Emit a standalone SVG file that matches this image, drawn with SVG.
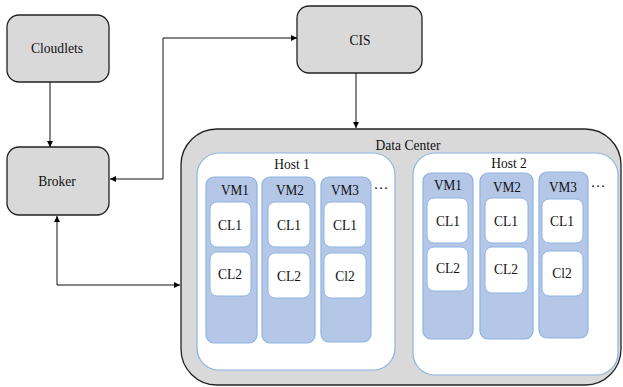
<svg xmlns="http://www.w3.org/2000/svg" width="623" height="387" viewBox="0 0 623 387">
<defs>
<marker id="ah" viewBox="0 0 10 10" refX="10" refY="5" markerWidth="6" markerHeight="6" orient="auto-start-reverse" markerUnits="userSpaceOnUse">
<path d="M0,0 L10,5 L0,10 z" fill="#000"/>
</marker>
<style>
.g{fill:#d9d9d9;stroke:#222;stroke-width:1.3}
.host{fill:#fff;stroke:#8db4e2;stroke-width:1.2}
.vm{fill:#b4c7e7;stroke:#8db4e2;stroke-width:1.2}
.cl{fill:#fff;stroke:#8db4e2;stroke-width:1}
text{font-family:"Liberation Serif","Times New Roman",serif;font-size:15px;fill:#111;text-anchor:middle;dominant-baseline:central}
.c{fill:none;stroke:#111;stroke-width:1}
</style>
</defs>
<g id="cloudlets"><rect class="g" x="7" y="15" width="102" height="67" rx="12"/><text x="57" y="48" textLength="52" lengthAdjust="spacingAndGlyphs">Cloudlets</text></g>
<g id="broker"><rect class="g" x="7" y="147" width="102" height="68" rx="12"/><text x="57" y="181" textLength="37.5" lengthAdjust="spacingAndGlyphs">Broker</text></g>
<g id="cis"><rect class="g" x="297" y="6" width="125" height="67" rx="12"/><text x="360" y="40" textLength="21" lengthAdjust="spacingAndGlyphs">CIS</text></g>
<g id="datacenter"><rect class="g" x="181" y="129" width="440" height="256" rx="36"/><text x="408" y="145" textLength="65" lengthAdjust="spacingAndGlyphs">Data Center</text></g>
<g id="host1"><rect class="host" x="197" y="153" width="198" height="217" rx="22"/><text x="292" y="164" textLength="35.6" lengthAdjust="spacingAndGlyphs">Host 1</text>
<g id="h1vm1"><rect class="vm" x="206" y="177" width="51" height="166" rx="8"/><text x="235" y="190" textLength="28" lengthAdjust="spacingAndGlyphs">VM1</text>
<g id="h1vm1cl1"><rect class="cl" x="210" y="202" width="41" height="45" rx="7"/><text x="230" y="225" textLength="24" lengthAdjust="spacingAndGlyphs">CL1</text></g>
<g id="h1vm1cl2"><rect class="cl" x="210" y="252" width="41" height="44" rx="7"/><text x="230" y="274" textLength="24" lengthAdjust="spacingAndGlyphs">CL2</text></g></g>
<g id="h1vm2"><rect class="vm" x="262" y="177" width="53" height="166" rx="8"/><text x="290" y="190" textLength="28" lengthAdjust="spacingAndGlyphs">VM2</text>
<g id="h1vm2cl1"><rect class="cl" x="268" y="202" width="42" height="45" rx="7"/><text x="289" y="225" textLength="24" lengthAdjust="spacingAndGlyphs">CL1</text></g>
<g id="h1vm2cl2"><rect class="cl" x="268" y="253" width="42" height="45" rx="7"/><text x="289" y="276" textLength="24" lengthAdjust="spacingAndGlyphs">CL2</text></g></g>
<g id="h1vm3"><rect class="vm" x="321" y="177" width="50" height="165" rx="8"/><text x="345" y="190" textLength="28" lengthAdjust="spacingAndGlyphs">VM3</text>
<g id="h1vm3cl1"><rect class="cl" x="324" y="202" width="42" height="45" rx="7"/><text x="345" y="225" textLength="24" lengthAdjust="spacingAndGlyphs">CL1</text></g>
<g id="h1vm3cl2"><rect class="cl" x="324" y="253" width="42" height="45" rx="7"/><text x="345" y="276" textLength="19.5" lengthAdjust="spacingAndGlyphs">Cl2</text></g></g>
<text x="381" y="184">…</text></g>
<g id="host2"><rect class="host" x="413" y="153" width="205" height="222" rx="22"/><text x="509" y="163" textLength="35.6" lengthAdjust="spacingAndGlyphs">Host 2</text>
<g id="h2vm1"><rect class="vm" x="423" y="173" width="50" height="166" rx="8"/><text x="448" y="185" textLength="28" lengthAdjust="spacingAndGlyphs">VM1</text>
<g id="h2vm1cl1"><rect class="cl" x="427" y="198" width="41" height="45" rx="7"/><text x="448" y="221" textLength="24" lengthAdjust="spacingAndGlyphs">CL1</text></g>
<g id="h2vm1cl2"><rect class="cl" x="427" y="247" width="41" height="44" rx="7"/><text x="448" y="268" textLength="24" lengthAdjust="spacingAndGlyphs">CL2</text></g></g>
<g id="h2vm2"><rect class="vm" x="480" y="173" width="53" height="166" rx="8"/><text x="507" y="187" textLength="28" lengthAdjust="spacingAndGlyphs">VM2</text>
<g id="h2vm2cl1"><rect class="cl" x="485" y="198" width="43" height="45" rx="7"/><text x="506" y="221" textLength="24" lengthAdjust="spacingAndGlyphs">CL1</text></g>
<g id="h2vm2cl2"><rect class="cl" x="485" y="247" width="43" height="46" rx="7"/><text x="506" y="269" textLength="24" lengthAdjust="spacingAndGlyphs">CL2</text></g></g>
<g id="h2vm3"><rect class="vm" x="539" y="172" width="49" height="166" rx="8"/><text x="563" y="187" textLength="28" lengthAdjust="spacingAndGlyphs">VM3</text>
<g id="h2vm3cl1"><rect class="cl" x="542" y="199" width="41" height="44" rx="7"/><text x="562" y="221" textLength="24" lengthAdjust="spacingAndGlyphs">CL1</text></g>
<g id="h2vm3cl2"><rect class="cl" x="542" y="251" width="41" height="45" rx="7"/><text x="562" y="273" textLength="19.5" lengthAdjust="spacingAndGlyphs">Cl2</text></g></g>
<text x="598" y="182">…</text></g>
<g id="connectors">
<line class="c" x1="50" y1="82" x2="50" y2="147" marker-end="url(#ah)"/>
<polyline class="c" points="297,38 163,38 163,179 110,179" marker-start="url(#ah)" marker-end="url(#ah)"/>
<line class="c" x1="356" y1="73" x2="356" y2="128" marker-end="url(#ah)"/>
<polyline class="c" points="57,216 57,285 180,285" marker-start="url(#ah)" marker-end="url(#ah)"/>
</g>
</svg>
